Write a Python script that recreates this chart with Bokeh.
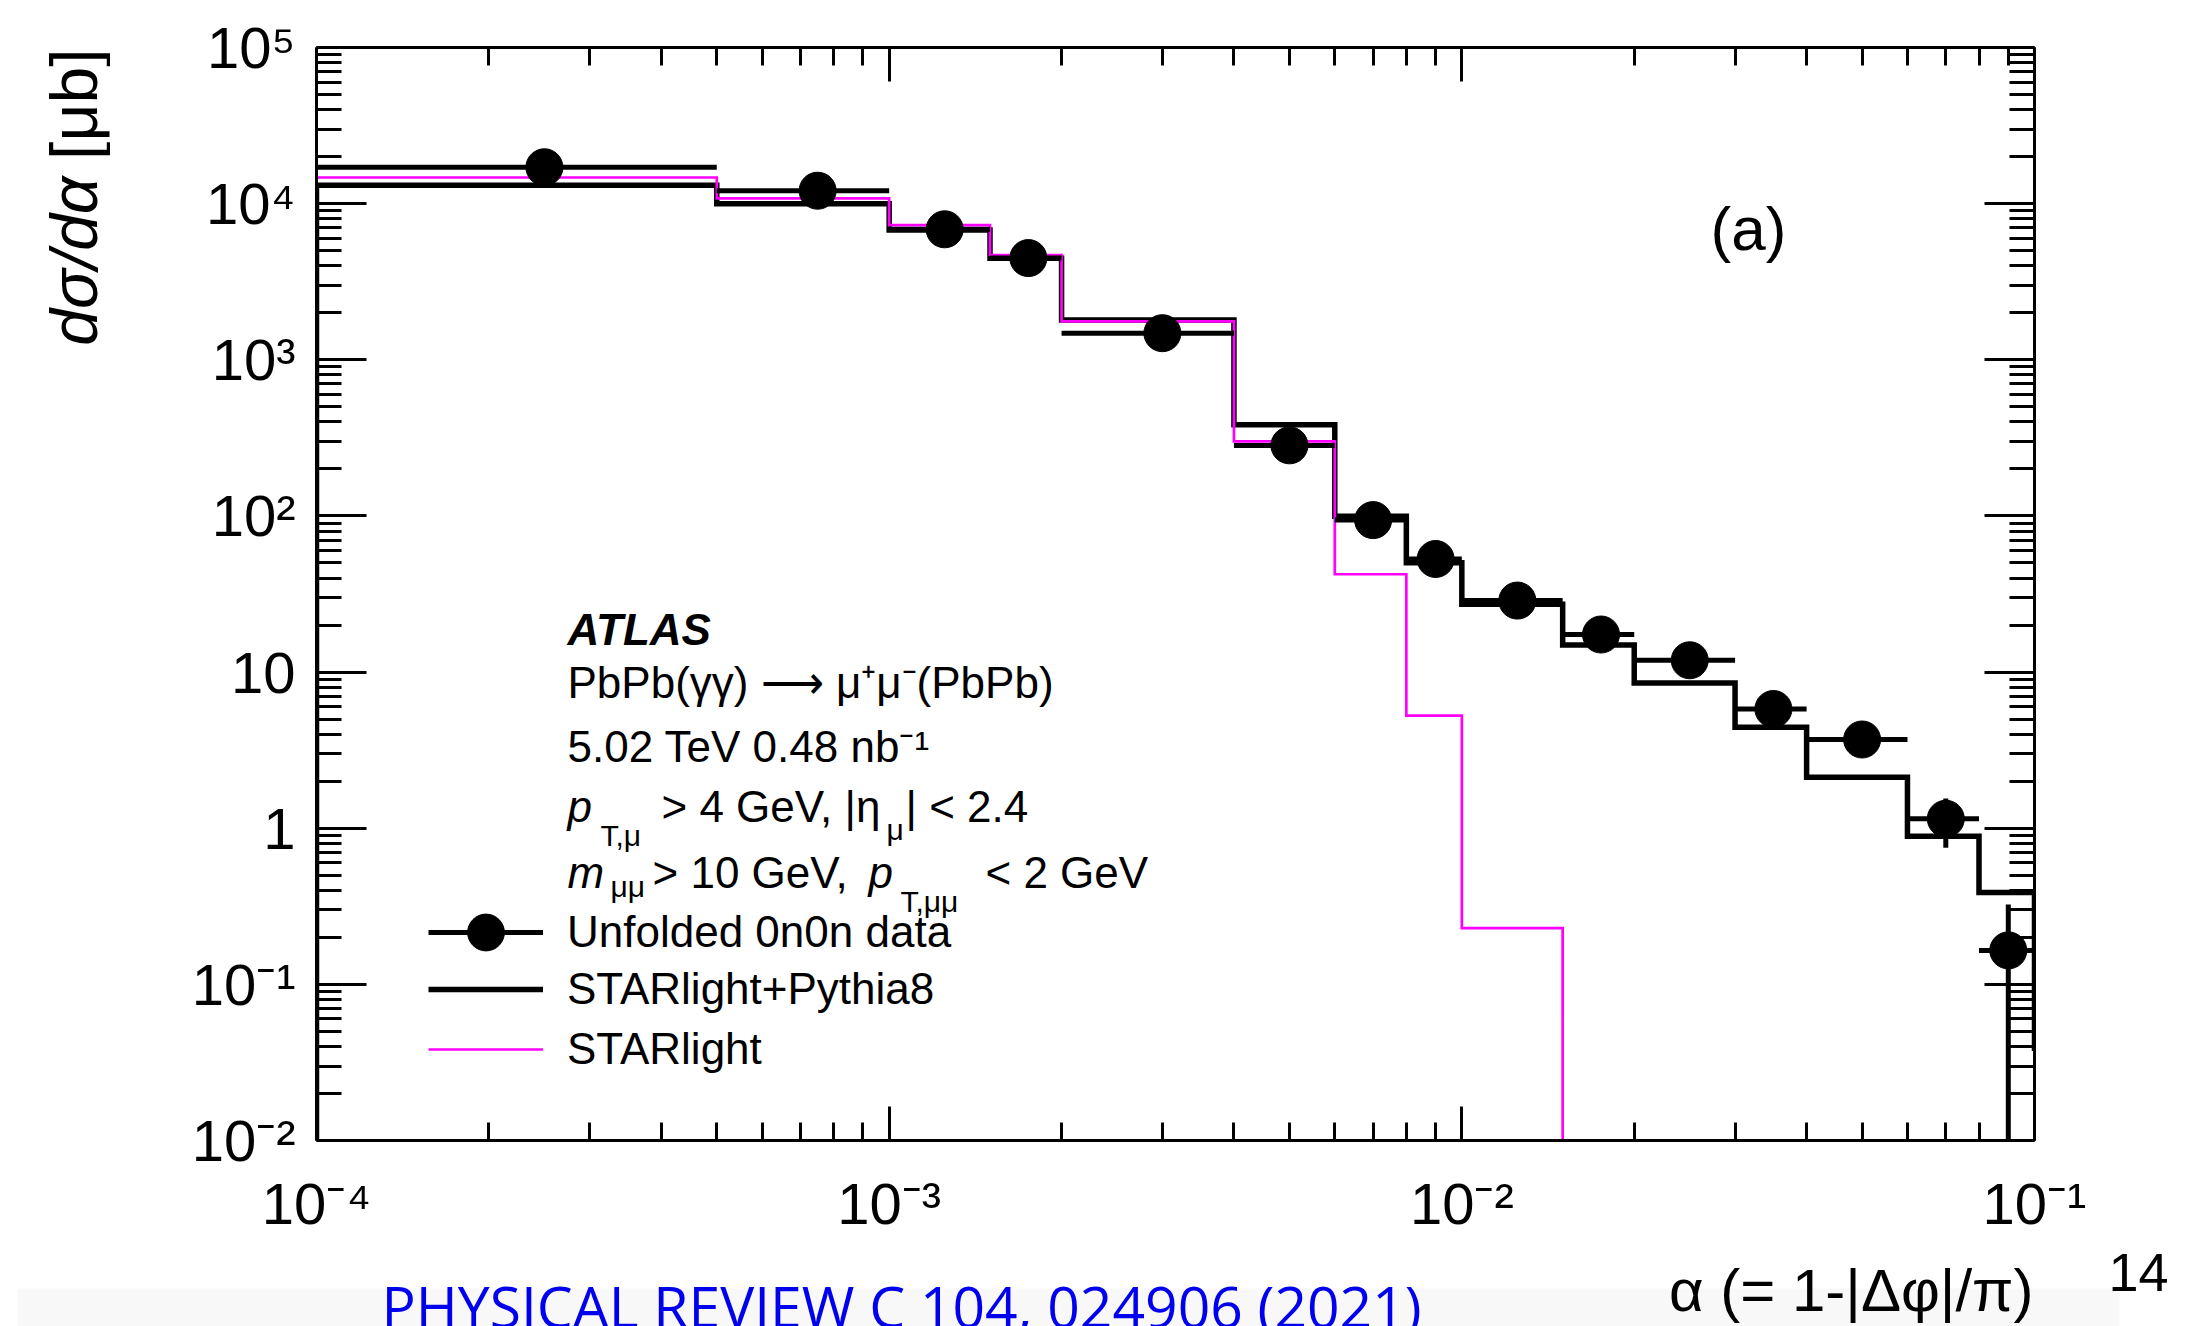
import math
from bokeh.plotting import figure
from bokeh.layouts import row, column
from bokeh.models import (Range1d, FixedTicker, LogAxis, Label, BoxAnnotation, Legend,
                          LegendItem, ColumnDataSource, CustomJSTickFormatter)
from bokeh.core.properties import value
from bokeh.embed import file_html
from bokeh.resources import INLINE

# ---------------- data ----------------
bin_edges = [1e-4, 5e-4, 1e-3, 1.5e-3, 2e-3, 4e-3, 6e-3, 8e-3, 1e-2,
             1.5e-2, 2e-2, 3e-2, 4e-2, 6e-2, 8e-2, 1e-1]
data_x = [2.5e-4, 7.5e-4, 1.25e-3, 1.75e-3, 3e-3, 5e-3, 7e-3, 9e-3,
          1.25e-2, 1.75e-2, 2.5e-2, 3.5e-2, 5e-2, 7e-2, 9e-2]
data_y = [17100, 12100, 6850, 4480, 1480, 283, 94, 53,
          28.7, 17.4, 11.9, 5.8, 3.7, 1.15, 0.165]
data_yerr = [600, 500, 300, 200, 70, 15, 5, 3,
             1.5, 1.0, 0.8, 0.5, 0.4, 0.40, 0.16]
pythia_y = [13100, 10000, 6770, 4470, 1800, 384, 99.7, 50.2,
            27.2, 14.9, 8.5, 4.43, 2.12, 0.887, 0.387]
pythia_next_edge = 0.12      # bin beyond the axis end
pythia_next_y = 0.039
starlight_y = [14700, 10800, 7290, 4690, 1760, 300, 42.3, 5.26,
               0.229, 0, 0, 0, 0, 0, 0]

x_decades = [1e-4, 1e-3, 1e-2, 1e-1]
x_tick_labels = ["10\u207b\u2074", "10\u207b\u00b3", "10\u207b\u00b2", "10\u207b\u00b9"]
y_decades = [1e-2, 1e-1, 1, 10, 1e2, 1e3, 1e4, 1e5]
y_tick_labels = ["10\u207b\u00b2", "10\u207b\u00b9", "1", "10",
                 "10\u00b2", "10\u00b3", "10\u2074", "10\u2075"]

X_MIN, X_MAX = 1e-4, 1e-1
Y_MIN, Y_MAX = 1e-2, 1e5

FONT = "Liberation Sans"
PAGE_W, PAGE_H = 2198, 1326
LEFT_W = 110          # strip holding the y title
FOOT_H = 86           # strip holding x title and slide footer
MAIN_H = PAGE_H - FOOT_H
BASELINE_FIX = 0.37   # measured shift of the rendered baseline, in em


def bare_fig(w, h):
    f = figure(width=w, height=h, x_axis_type=None, y_axis_type=None,
               output_backend="svg", toolbar_location=None, min_border=0,
               x_range=Range1d(0, 1), y_range=Range1d(0, 1))
    f.outline_line_color = None
    f.background_fill_color = "white"
    f.border_fill_color = None
    return f


p = figure(width=PAGE_W - LEFT_W, height=MAIN_H, x_axis_type="log", y_axis_type="log",
           x_range=Range1d(X_MIN, X_MAX), y_range=Range1d(Y_MIN, Y_MAX),
           output_backend="svg", toolbar_location=None,
           min_border_left=316 - LEFT_W, min_border_right=164,
           min_border_top=47, min_border_bottom=MAIN_H - 1140)
p.xgrid.visible = False
p.ygrid.visible = False
p.outline_line_color = None
p.background_fill_color = "white"
p.border_fill_color = None

x_minor = [k * d for d in x_decades[:-1] for k in range(2, 10)]
y_minor = [k * d for d in y_decades[:-1] for k in range(2, 10)]
blank = CustomJSTickFormatter(code="return ''")


def label_formatter(vals, labs):
    return CustomJSTickFormatter(args=dict(vals=vals, labs=labs), code="""
        for (let i = 0; i < vals.length; i++) {
            if (Math.abs(Math.log10(tick) - Math.log10(vals[i])) < 1e-6) return labs[i];
        }
        return '';
    """)


def style_axis(ax, ticks, minor, major_len, minor_len, fmt=None, standoff=0):
    ax.ticker = FixedTicker(ticks=ticks, minor_ticks=minor)
    ax.formatter = fmt if fmt is not None else blank
    ax.major_tick_in = major_len
    ax.major_tick_out = 0
    ax.minor_tick_in = minor_len
    ax.minor_tick_out = 0
    ax.major_tick_line_width = 3
    ax.minor_tick_line_width = 3
    ax.axis_line_width = 3
    ax.axis_line_color = "black"
    ax.major_tick_line_color = "black"
    ax.minor_tick_line_color = "black"
    ax.major_label_standoff = standoff
    ax.major_label_text_font = FONT
    ax.major_label_text_font_size = "58px"
    ax.major_label_text_color = "black"


style_axis(p.xaxis[0], x_decades, x_minor, 34, 18,
           label_formatter(x_decades, x_tick_labels), 30)
style_axis(p.yaxis[0], y_decades, y_minor, 50, 25,
           label_formatter(y_decades, y_tick_labels), 21)
top_ax = LogAxis()
style_axis(top_ax, x_decades, x_minor, 34, 18)
p.add_layout(top_ax, "above")
right_ax = LogAxis()
style_axis(right_ax, y_decades, y_minor, 50, 25)
p.add_layout(right_ax, "right")


# ---------------- histograms ----------------
def step_xy(edges, values, floor):
    xs, ys = [edges[0]], [floor]
    for i, v in enumerate(values):
        v = max(v, floor)
        xs += [edges[i], edges[i + 1]]
        ys += [v, v]
    return xs, ys


floor = Y_MIN * 0.5
px, py = step_xy(bin_edges + [pythia_next_edge], pythia_y + [pythia_next_y], floor)
pythia_r = p.line(px, py, line_color="black", line_width=5.5, line_join="miter")
sx, sy = step_xy(bin_edges, starlight_y, floor)
star_r = p.line(sx, sy, line_color="#ff00ff", line_width=2.7, line_join="miter")

# ---------------- data points ----------------
src = ColumnDataSource(dict(
    x=data_x, y=data_y,
    lo=bin_edges[:-1], hi=bin_edges[1:],
    ylo=[max(v - e, floor) for v, e in zip(data_y, data_yerr)],
    yhi=[v + e for v, e in zip(data_y, data_yerr)],
))
xerr_r = p.segment(x0="lo", y0="y", x1="hi", y1="y", source=src,
                   line_color="black", line_width=5)
yerr_r = p.segment(x0="x", y0="ylo", x1="x", y1="yhi", source=src,
                   line_color="black", line_width=5)
pts_r = p.scatter("x", "y", source=src, marker="circle", size=37,
                  fill_color="black", line_color="black", line_width=1)


# ---------------- legends ----------------
def make_legend(label, renderers, loc, gh):
    leg = Legend(items=[LegendItem(label=value(label), renderers=renderers)],
                 location=loc, glyph_width=115, glyph_height=gh,
                 label_standoff=24, label_text_font=FONT,
                 label_text_font_size="44px", label_text_color="black",
                 padding=0, margin=0, spacing=0,
                 border_line_color=None, background_fill_alpha=0)
    p.add_layout(leg, "center")


make_legend("Unfolded 0n0n data", [xerr_r, pts_r], (112, 162), 92)
make_legend("STARlight+Pythia8", [pythia_r], (112, 126), 40)
make_legend("STARlight", [star_r], (112, 66), 40)


# ---------------- text helper (page pixel positions, y = baseline) ----------------
def lab(fig, ox, oy, text, x, y, size=44, align="left", baseline="alphabetic",
        style="normal", font=FONT, color="black", angle=0.0):
    yy = y - oy
    if baseline == "alphabetic":
        yy -= BASELINE_FIX * size
    fig.add_layout(Label(x=x - ox, y=yy, x_units="canvas", y_units="canvas",
                         text=text, text_font=font, text_font_size=f"{size}px",
                         text_font_style=style, text_align=align,
                         text_baseline=baseline, text_color=color, angle=angle))


def plab(*a, **k):
    lab(p, LEFT_W, 0, *a, **k)


# annotation block inside the frame
plab("ATLAS", 567, 645, size=44, style="bold italic")
plab("PbPb(\u03b3\u03b3) \u27f6 \u03bc\u207a\u03bc\u207b(PbPb)", 567, 698, size=44)
plab("5.02 TeV 0.48 nb\u207b\u00b9", 567, 762, size=44)
# p_T,mu > 4 GeV, |eta_mu| < 2.4
plab("p", 567, 822, size=44, style="italic")
plab("T,\u03bc", 600, 846, size=30)
plab("> 4 GeV, |\u03b7", 661, 822, size=44)
plab("\u03bc", 886, 840, size=30)
plab("| < 2.4", 905, 822, size=44)
# m_mumu > 10 GeV, p_T,mumu < 2 GeV
plab("m", 567, 888, size=44, style="italic")
plab("\u03bc\u03bc", 610, 897, size=30)
plab("> 10 GeV,", 652, 888, size=44)
plab("p", 868, 888, size=44, style="italic")
plab("T,\u03bc\u03bc", 900, 912, size=30)
plab("< 2 GeV", 985, 888, size=44)

plab("(a)", 1710, 251, size=62)

# ---------------- left strip: y title ----------------
left = bare_fig(LEFT_W, MAIN_H)
lab(left, 0, 0, "[\u03bcb]", 73, 48, size=66, align="right", baseline="middle",
    angle=math.pi / 2)
lab(left, 0, 0, "d\u03c3/d\u03b1", 73, 176, size=66, align="right", baseline="middle",
    style="italic", angle=math.pi / 2)

# ---------------- bottom strip: x title and slide footer ----------------
foot = bare_fig(PAGE_W, FOOT_H)
foot.add_layout(BoxAnnotation(left=17, right=2119, top=1288 - MAIN_H, bottom=FOOT_H,
                              left_units="canvas", right_units="canvas",
                              top_units="canvas", bottom_units="canvas",
                              fill_color="#f8f8f8", fill_alpha=1.0, line_color=None))
lab(foot, 0, MAIN_H, "\u03b1 (= 1-|\u0394\u03c6|/\u03c0)", 2033, 1312, size=60, align="right")
lab(foot, 0, MAIN_H, "PHYSICAL REVIEW C 104, 024906 (2021)", 381, 1327, size=57,
    font="Open Sans", color="#0000ee")
lab(foot, 0, MAIN_H, "14", 2108, 1292, size=54)

layout = column(row(left, p, spacing=0), foot, spacing=0)
open("out.html", "w").write(file_html(layout, INLINE))
